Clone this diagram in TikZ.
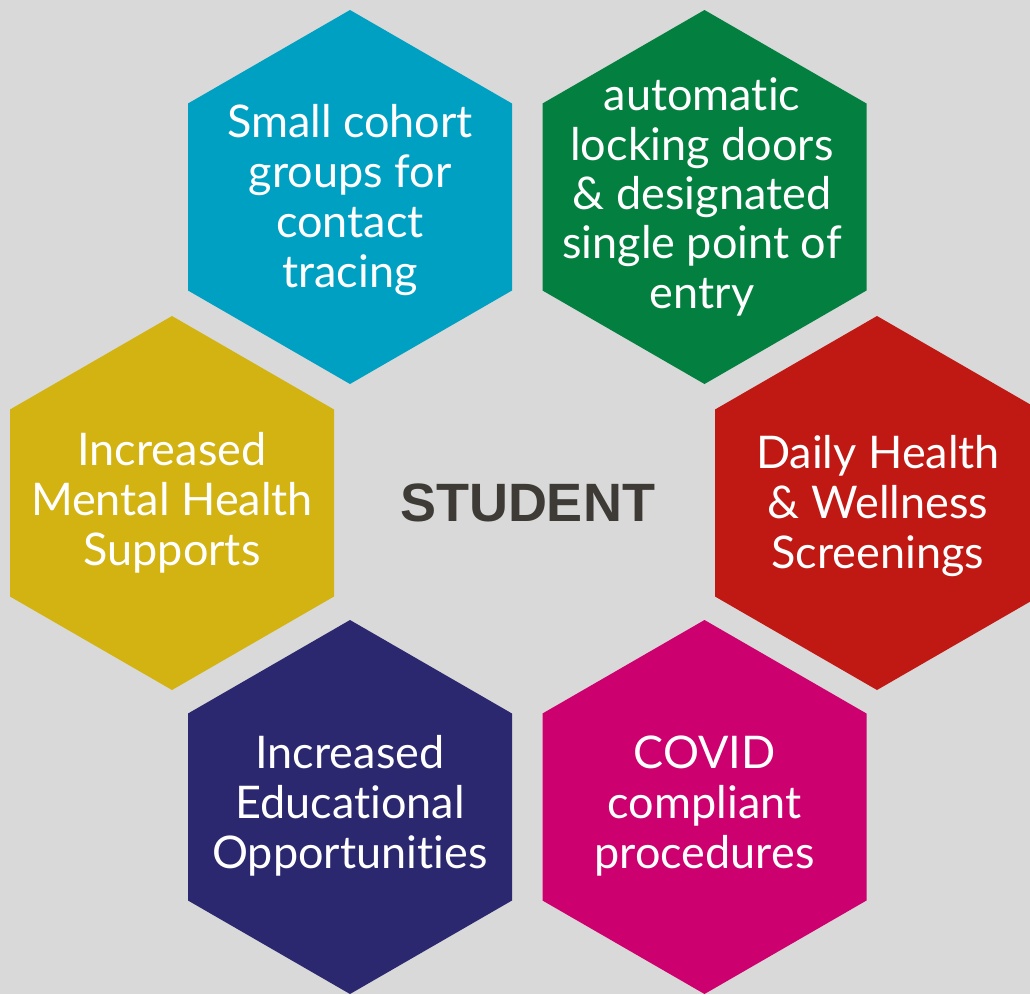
\documentclass[tikz,border=0pt]{standalone}
\usepackage{fontspec}
\setmainfont{Lato}[Ligatures={NoCommon}]
\newfontfamily\studentfont{Liberation Sans}
\definecolor{bggray}{HTML}{D9D9D9}
\definecolor{hexcyan}{HTML}{00A0C3}
\definecolor{hexgreen}{HTML}{03803F}
\definecolor{hexred}{HTML}{C01813}
\definecolor{hexyellow}{HTML}{D3B311}
\definecolor{hexnavy}{HTML}{2B2870}
\definecolor{hexmagenta}{HTML}{CC006E}
\definecolor{studentgray}{HTML}{3E3A35}
\newcommand{\myhex}[3]{\fill[#1] (#2,#3) ++(0,-187) -- ++(162,93.5) -- ++(0,187) -- ++(-162,93.5) -- ++(-162,-93.5) -- ++(0,-187) -- cycle;}
\tikzset{
  hextext/.style={text=white, align=center, inner sep=0pt, font=\fontsize{45}{50}\selectfont},
  centertext/.style={text=studentgray, inner sep=0pt, font=\studentfont\bfseries\fontsize{54}{60}\selectfont}
}
\begin{document}
\begin{tikzpicture}[x=1pt,y=-1pt]
\useasboundingbox (0,0) rectangle (1030,994);
\fill[bggray] (0,0) rectangle (1030,994);
\clip (0,0) rectangle (1030,994);
\myhex{hexcyan}{350}{197}
\myhex{hexgreen}{704.5}{197}
\myhex{hexyellow}{172}{503}
\myhex{hexred}{877}{503}
\myhex{hexnavy}{350}{807}
\myhex{hexmagenta}{704.5}{807}
\node[hextext] (cohort) at (350,200) {Small cohort\\groups for\\contact\\tracing};
\node[hextext, font=\fontsize{45}{49.3}\selectfont] (doors) at (702,197) {automatic\\locking doors\\\& designated\\single point of\\entry};
\node[hextext] (mental) at (172,503) {Increased\\Mental Health\\Supports};
\node[hextext] (daily) at (878,506) {Daily Health\\\& Wellness\\Screenings};
\node[hextext] (edu) at (350,806) {Increased\\Educational\\Opportunities};
\node[hextext] (covid) at (704.5,806) {COVID\\compliant\\procedures};
\node[centertext] (student) at (527.5,502.5) {STUDENT};
\end{tikzpicture}
\end{document}
